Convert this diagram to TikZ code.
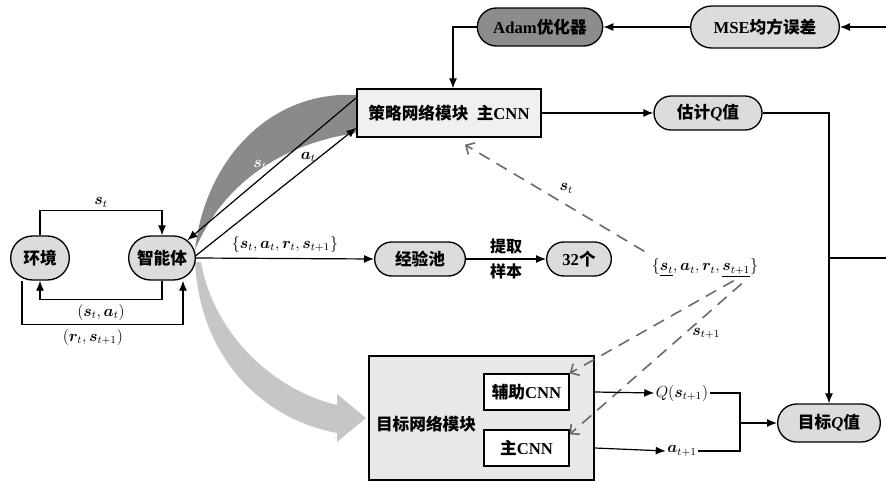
\documentclass[tikz,border=0pt]{standalone}
\usepackage{fontspec}
\usepackage{bm}
\setmainfont{Liberation Serif}
\newfontfamily\cjk{Noto Sans CJK SC}
\usetikzlibrary{arrows.meta,positioning,calc,shapes.misc}
\newcommand{\zh}[1]{{\cjk #1}}
\newcommand{\gul}[1]{{\color{dashgray}\underline{\color{black}#1}}}
\definecolor{pillgray}{HTML}{DCDCDC}
\definecolor{adamgray}{HTML}{8C8C8C}
\definecolor{boxgray}{HTML}{F0F0F0}
\definecolor{tboxgray}{HTML}{E8E8E8}
\definecolor{dashgray}{HTML}{6A6A6A}
\definecolor{banddark}{HTML}{8A8A8A}
\definecolor{bandlight}{HTML}{C6C6C6}
\tikzset{
  pill/.style={draw, line width=1pt, rounded rectangle, fill=pillgray, inner sep=2pt,
    font=\fontsize{12.5}{14}\selectfont\bfseries},
  netbox/.style={draw, line width=1pt, rectangle, inner sep=2pt,
    font=\fontsize{12.5}{14}\selectfont\bfseries},
  arr/.style={line width=0.9pt, -{Latex[length=7.5pt,width=6pt]}},
  plain/.style={line width=0.9pt},
  dasharr/.style={dashgray, line width=1.2pt, dash pattern=on 9pt off 6pt,
    -{Straight Barb[length=5pt,width=10pt]}},
  lbl/.style={font=\fontsize{12}{14}\selectfont, inner sep=1pt, text=black},
}
\begin{document}
\begin{tikzpicture}[x=0.75pt, y=-0.75pt]
    \useasboundingbox (0,0) rectangle (886,482);

    % Curved bands
    \fill[banddark] (357,95) .. controls (270,90) and (205,160) .. (195,250)
        .. controls (225,178) and (290,142) .. (357,133) -- cycle;
    \fill[bandlight] (195,262) .. controls (200,360) and (265,420) .. (337,433)
        -- (337,442) -- (366,418) -- (337,394) -- (337,405)
        .. controls (280,392) and (215,340) .. (201,262) -- cycle;

    % Nodes
    \node[pill, minimum width=48pt, minimum height=33pt] (env) at (40,258) {\zh{环境}};
    \node[pill, minimum width=54pt, minimum height=33pt] (agent) at (162,258) {\zh{智能体}};
    \node[netbox, fill=boxgray, minimum width=138pt, minimum height=36pt] (pol) at (449,113)
        {\zh{策略网络模块}\ \ \zh{主}CNN};
    \node[pill, fill=adamgray, minimum width=98pt, minimum height=28.5pt] (adam) at (540,27)
        {Adam\zh{优化器}};
    \node[pill, minimum width=115.5pt, minimum height=31.5pt] (mse) at (765,27)
        {MSE\zh{均方误差}};
    \node[pill, minimum width=85pt, minimum height=25.5pt] (est) at (708,113)
        {\zh{估计}\textit{Q}\zh{值}};
    \node[pill, minimum width=72pt, minimum height=25.5pt] (pool) at (420,259) {\zh{经验池}};
    \node[pill, minimum width=52.5pt, minimum height=25.5pt] (n32) at (579,259) {32\zh{个}};
    \node[pill, minimum width=81pt, minimum height=28.5pt] (tgtq) at (829,423)
        {\zh{目标}\textit{Q}\zh{值}};
    \node[netbox, fill=tboxgray, minimum width=168.75pt, minimum height=93pt] (tbox) at (481.5,418) {};
    \node[font=\fontsize{12.5}{14}\selectfont\bfseries, inner sep=0pt] (tlabel) at (426,424)
        {\zh{目标网络模块}};
    \node[netbox, fill=white, minimum width=63.75pt, minimum height=27pt] (aux) at (526.5,392)
        {\zh{辅助}CNN};
    \node[netbox, fill=white, minimum width=63.75pt, minimum height=27pt] (mcnn) at (526.5,448)
        {\zh{主}CNN};
    \node[lbl] (tuple) at (705,268)
        {$\{\gul{\bm{s}_{t}},\bm{a}_{t},\bm{r}_{t},\gul{\bm{s}_{t+1}}\}$};
    \node[lbl] (qs) at (682,393) {$Q(\bm{s}_{t+1})$};
    \node[lbl] (an) at (682,451) {$\bm{a}_{t+1}$};

    % Free ends
    \coordinate (mseIn) at (886,27);
    \coordinate (jq) at (829,258);
    \coordinate (jqOut) at (886,258);
    \coordinate (br) at (740,423);
    \coordinate (polTop) at ($(pol.north west)!0.19!(pol.south west)$);
    \coordinate (polBot) at ($(pol.north west)!0.8!(pol.south west)$);
    \coordinate (dsSt) at ($(tuple.north west)+(-6,-6)$);
    \coordinate (dsA) at ($(tuple.south east)+(-26,2)$);
    \coordinate (dsB) at ($(tuple.south east)+(-18,5)$);

    % Environment loop
    \draw[arr] (env.north) -- ++(0,-25) -| (agent.north)
        node[lbl, pos=0.25, above=1pt] (lst) {$\bm{s}_{t}$};
    \draw[arr] (agent.south) -- ++(0,19) -| (env.south)
        node[lbl, pos=0.25, below=2pt] (lsa) {$(\bm{s}_{t},\bm{a}_{t})$};
    \draw[arr] ($(env.south)+(-18,0)$) -- ++(0,44) -| ($(agent.south)+(21,0)$)
        node[lbl, pos=0.22, below=2pt] (lrs) {$(\bm{r}_{t},\bm{s}_{t+1})$};

    % Agent and policy network
    \draw[arr] (polTop) -- (agent.35)
        node[lbl, pos=0.52, above left=0pt, text=white] (lst2) {$\bm{s}_{t}$};
    \draw[arr] (agent.4) -- (polBot)
        node[lbl, pos=0.7, above=2pt] (lat) {$\bm{a}_{t}$};
    \draw[arr] (agent.east) -- (pool.west)
        node[lbl, midway, above=3pt] (ltr) {$\{\bm{s}_{t},\bm{a}_{t},\bm{r}_{t},\bm{s}_{t+1}\}$};
    \draw[arr] (pool.east) -- (n32.west)
        node[lbl, midway, above=2pt, font=\fontsize{12}{14}\selectfont\bfseries] (lx1) {\zh{提取}}
        node[lbl, midway, below=2pt, font=\fontsize{12}{14}\selectfont\bfseries] (lx2) {\zh{样本}};

    % Training loop
    \draw[arr] (mseIn) -- (mse.east);
    \draw[arr] (mse.west) -- (adam.east);
    \draw[arr] (adam.west) -| ($(pol.north)+(4,0)$);
    \draw[arr] (pol.east) -- (est.west);
    \draw[arr] (est.east) -| (tgtq.north);
    \draw[plain] (jq) -- (jqOut);

    % Sampled transitions
    \draw[dasharr] (dsSt) -- ($(pol.south)+(16,7)$)
        node[lbl, midway, above right=3pt] (lds) {$\bm{s}_{t}$};
    \draw[dasharr] (dsA) -- (aux.north east);
    \draw[dasharr] (dsB) -- ($(mcnn.north east)+(0,5)$)
        node[lbl, pos=0.33, right=4pt] (lds2) {$\bm{s}_{t+1}$};

    % Target network outputs
    \draw[arr] (aux.east -| tbox.east) -- (qs.west);
    \draw[arr] (mcnn.east -| tbox.east) -- (an.west);
    \draw[plain] (qs.east) -| (br);
    \draw[plain] (an.east) -| (br);
    \draw[arr] (br) -- (tgtq.west);
\end{tikzpicture}
\end{document}
